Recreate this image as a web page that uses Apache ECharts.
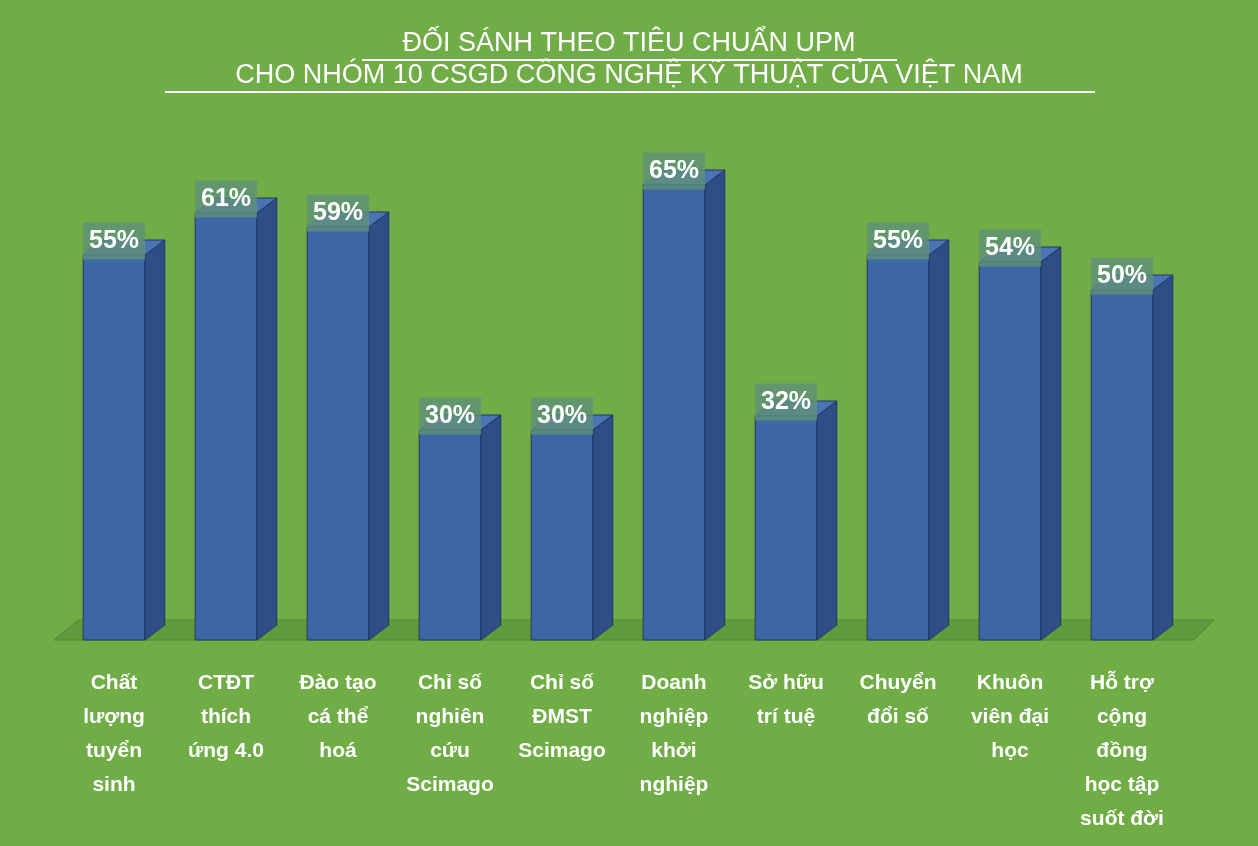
<!DOCTYPE html>
<html><head><meta charset="utf-8">
<script src="https://cdn.jsdelivr.net/npm/echarts@6/dist/echarts.min.js"></script>
<style>html,body{margin:0;padding:0;background:#70ad47}#c{width:1258px;height:846px}</style>
</head><body><div id="c"></div>
<script>
var categories = ['Chất\nlượng\ntuyển\nsinh','CTĐT\nthích\nứng 4.0','Đào tạo\ncá thể\nhoá','Chỉ số\nnghiên\ncứu\nScimago','Chỉ số\nĐMST\nScimago','Doanh\nnghiệp\nkhởi\nnghiệp','Sở hữu\ntrí tuệ','Chuyển\nđổi số','Khuôn\nviên đại\nhọc','Hỗ trợ\ncộng\nđồng\nhọc tập\nsuốt đời'];
var values = [55, 61, 59, 30, 30, 65, 32, 55, 54, 50];
var titleLines = ['ĐỐI SÁNH THEO TIÊU CHUẨN UPM', 'CHO NHÓM 10 CSGD CÔNG NGHỆ KỸ THUẬT CỦA VIỆT NAM'];

var chart = echarts.init(document.getElementById('c'));
var DX = 20, DY = -15;
var font = 'Liberation Sans, Arial, sans-serif';

function renderBar(params, api) {
    var i = api.value(0), v = api.value(1);
    var top = api.coord([i, v]), base = api.coord([i, 0]);
    var w = api.size([1, 0])[0] * 0.55;
    var x0 = top[0] - w / 2, x1 = top[0] + w / 2, yt = top[1], yb = base[1];
    var stroke = {stroke: '#1f3864', lineWidth: 1};
    return {type: 'group', children: [
        {type: 'polygon', shape: {points: [[x1, yt], [x1 + DX, yt + DY], [x1 + DX, yb + DY], [x1, yb]]},
         style: Object.assign({fill: '#2d4f86'}, stroke)},
        {type: 'polygon', shape: {points: [[x0, yt], [x0 + DX, yt + DY], [x1 + DX, yt + DY], [x1, yt]]},
         style: Object.assign({fill: '#4a74b4'}, stroke)},
        {type: 'rect', shape: {x: x0, y: yt, width: w, height: yb - yt},
         style: Object.assign({fill: '#3e67a6'}, stroke)},
        {type: 'text', x: top[0], y: yt - 14,
         style: {text: v + '%', fill: '#fff', font: 'bold 25px ' + font, align: 'center', verticalAlign: 'middle',
                 backgroundColor: 'rgba(95,145,120,0.8)', padding: [8, 6, 4, 6]}}
    ]};
}

chart.setOption({
    backgroundColor: '#70ad47',
    grid: {left: 58, right: 80, top: 80, bottom: 206},
    xAxis: {type: 'category', data: categories,
        axisLine: {show: false}, axisTick: {show: false},
        axisLabel: {color: '#fff', fontWeight: 'bold', fontSize: 21, lineHeight: 34, fontFamily: font,
                    margin: 26, verticalAlign: 'top', interval: 0}},
    yAxis: {type: 'value', min: 0, max: 80, show: false, splitLine: {show: false}},
    series: [{type: 'custom', renderItem: renderBar, data: values.map(function (v, i) { return [i, v]; }), z: 3}]
});

var p0 = chart.convertToPixel({seriesIndex: 0}, [0, 0]);
var p9 = chart.convertToPixel({seriesIndex: 0}, [categories.length - 1, 0]);
var gl = p0[0] - 60, gr = p9[0] + 72, gy = p0[1];
chart.setOption({graphic: [
    {type: 'polygon', z: 1, shape: {points: [[gl, gy], [gl + DX + 4, gy + DY - 5], [gr + DX, gy + DY - 5], [gr, gy]]},
     style: {fill: '#5f9a3d', stroke: '#4f8a32'}},
    {type: 'text', left: 'center', top: 30, style: {text: titleLines[0], fill: '#fff', font: '27px ' + font}},
    {type: 'text', left: 'center', top: 62, style: {text: titleLines[1], fill: '#fff', font: '27px ' + font}},
    {type: 'rect', left: 362, top: 59, shape: {width: 535, height: 2}, style: {fill: '#fff'}},
    {type: 'rect', left: 165, top: 91, shape: {width: 930, height: 2}, style: {fill: '#fff'}}
]});
</script></body></html>
